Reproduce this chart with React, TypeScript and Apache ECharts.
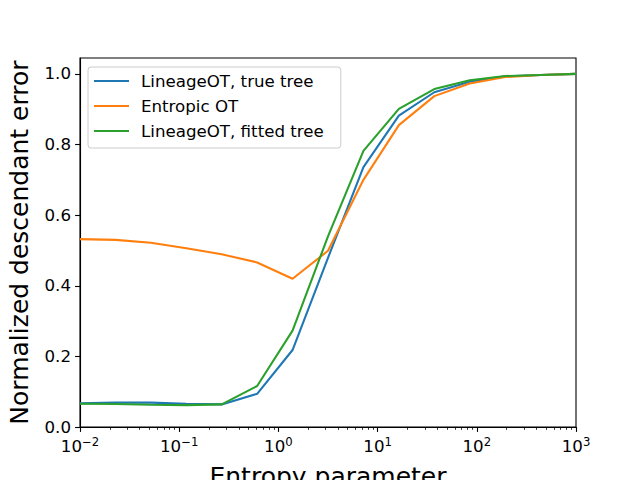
import React, { useEffect, useRef } from "react";
import * as echarts from "echarts";

// Entropy parameter values (log-spaced sample points)
const entropyParams = [
  0.01, 0.02276, 0.05179, 0.1179, 0.2683, 0.6105, 1.389, 3.162, 7.197, 16.38,
  37.28, 84.83, 193.1, 439.4, 1000,
];
const lineageTrue = [
  0.067, 0.069, 0.069, 0.066, 0.064, 0.094, 0.218, 0.479, 0.736, 0.882, 0.948,
  0.978, 0.993, 0.997, 1.0,
];
const entropicOT = [
  0.532, 0.53, 0.522, 0.506, 0.489, 0.466, 0.42, 0.499, 0.7, 0.855, 0.937,
  0.973, 0.991, 0.997, 1.0,
];
const lineageFitted = [
  0.066, 0.065, 0.063, 0.062, 0.064, 0.116, 0.273, 0.54, 0.782, 0.901, 0.957,
  0.982, 0.994, 0.997, 1.0,
];
const seriesNames = [
  "LineageOT, true tree",
  "Entropic OT",
  "LineageOT, fitted tree",
];
const colors = ["#1f77b4", "#ff7f0e", "#2ca02c"];
const yTicks = [0, 0.2, 0.4, 0.6, 0.8, 1.0];
const xMajorTicks = [0.01, 0.1, 1, 10, 100, 1000];

const FONT = "DejaVu Sans";

function minorTicks(): number[] {
  const out: number[] = [];
  for (let e = -2; e < 3; e++) {
    for (let m = 2; m <= 9; m++) out.push(m * Math.pow(10, e));
  }
  return out;
}

export default function App() {
  const ref = useRef<HTMLDivElement>(null);
  useEffect(() => {
    if (!ref.current) return;
    const chart = echarts.init(ref.current, null, { renderer: "svg" });
    const mk = (vals: number[]) => entropyParams.map((x, i) => [x, vals[i]]);
    const allSeries = [lineageTrue, entropicOT, lineageFitted];
    chart.setOption({
      animation: false,
      backgroundColor: "#ffffff",
      textStyle: { fontFamily: FONT },
      grid: {
        left: 80,
        right: 64,
        top: 58,
        bottom: 53,
        containLabel: false,
        outerBoundsMode: "none",
        show: true,
        borderColor: "#000",
        borderWidth: 1.1,
        backgroundColor: "transparent",
      },
      legend: {
        orient: "vertical",
        left: 88,
        top: 67,
        icon: "rect",
        itemWidth: 35,
        itemHeight: 2,
        itemGap: 7,
        padding: [5, 17, 8, 6],
        backgroundColor: "rgba(255,255,255,0.8)",
        borderColor: "#cccccc",
        borderWidth: 1,
        borderRadius: 3,
        textStyle: {
          fontFamily: FONT,
          fontSize: 16.67,
          color: "#000",
          lineHeight: 18,
          padding: [0, 0, 0, 7],
        },
        data: seriesNames,
      },
      xAxis: [
        {
          type: "log",
          logBase: 10,
          min: 0.01,
          max: 1000,
          name: "Entropy parameter",
          nameLocation: "middle",
          nameGap: 37,
          nameTextStyle: { fontFamily: FONT, fontSize: 25, color: "#000" },
          axisLine: { show: true, lineStyle: { color: "#000", width: 1.1 } },
          axisTick: {
            show: true,
            length: 4.9,
            lineStyle: { color: "#000", width: 1.1 },
            customValues: xMajorTicks,
          },
          axisLabel: {
            customValues: xMajorTicks,
            margin: 9,
            color: "#000",
            formatter: (v: number) => {
              const e = Math.round(Math.log10(v));
              const s = e < 0 ? "\u2212" + -e : String(e);
              return "{b|10}{s|" + s + "}";
            },
            rich: {
              b: { fontFamily: FONT, fontSize: 16.67, lineHeight: 20, color: "#000" },
              s: {
                fontFamily: FONT,
                fontSize: 11.7,
                lineHeight: 14,
                verticalAlign: "top",
                color: "#000",
              },
            },
          },
          splitLine: { show: false },
        },
        {
          type: "log",
          logBase: 10,
          min: 0.01,
          max: 1000,
          position: "bottom",
          axisLine: { show: false },
          axisTick: {
            show: true,
            length: 2.8,
            lineStyle: { color: "#000", width: 0.8 },
            customValues: minorTicks(),
          },
          axisLabel: { show: false },
          splitLine: { show: false },
        },
      ],
      yAxis: {
        type: "value",
        min: 0,
        max: 1.045,
        name: "Normalized descendant error",
        nameLocation: "middle",
        nameGap: 48,
        nameTextStyle: { fontFamily: FONT, fontSize: 25, color: "#000" },
        axisLine: { show: true, lineStyle: { color: "#000", width: 1.1 } },
        axisTick: {
          show: true,
          length: 4.9,
          lineStyle: { color: "#000", width: 1.1 },
          customValues: yTicks,
        },
        axisLabel: {
          customValues: yTicks,
          margin: 9,
          fontFamily: FONT,
          fontSize: 16.67,
          color: "#000",
          formatter: (v: number) => v.toFixed(1),
        },
        splitLine: { show: false },
      },
      series: allSeries.map((vals, i) => ({
        name: seriesNames[i],
        type: "line",
        xAxisIndex: 0,
        data: mk(vals),
        showSymbol: false,
        symbol: "none",
        color: colors[i],
        lineStyle: { color: colors[i], width: 2.08 },
        z: 2 + i,
      })),
    });
    return () => chart.dispose();
  }, []);
  return (
    <div
      ref={ref}
      style={{ position: "fixed", left: 0, top: 0, width: 640, height: 480 }}
    />
  );
}
